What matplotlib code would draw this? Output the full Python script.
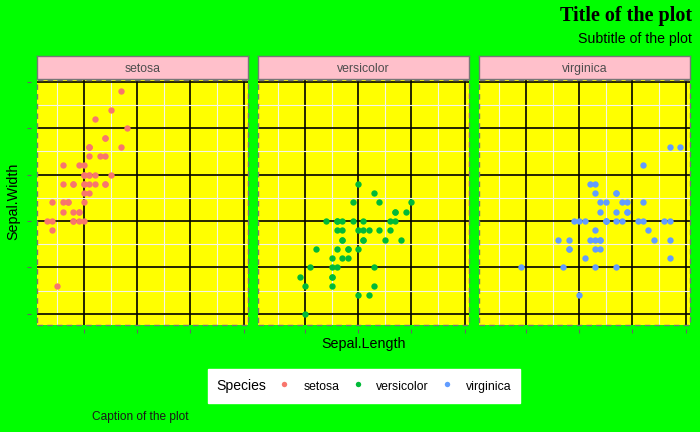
import matplotlib
matplotlib.use("Agg")
import matplotlib.pyplot as plt
from matplotlib.lines import Line2D
from matplotlib.patches import Rectangle

# iris sepal measurements, by species
species = ["setosa", "versicolor", "virginica"]
colors = ["#F8766D", "#00BA38", "#619CFF"]

setosa_len = [5.1, 4.9, 4.7, 4.6, 5.0, 5.4, 4.6, 5.0, 4.4, 4.9, 5.4, 4.8, 4.8, 4.3, 5.8, 5.7, 5.4,
              5.1, 5.7, 5.1, 5.4, 5.1, 4.6, 5.1, 4.8, 5.0, 5.0, 5.2, 5.2, 4.7, 4.8, 5.4, 5.2, 5.5,
              4.9, 5.0, 5.5, 4.9, 4.4, 5.1, 5.0, 4.5, 4.4, 5.0, 5.1, 4.8, 5.1, 4.6, 5.3, 5.0]
setosa_wid = [3.5, 3.0, 3.2, 3.1, 3.6, 3.9, 3.4, 3.4, 2.9, 3.1, 3.7, 3.4, 3.0, 3.0, 4.0, 4.4, 3.9,
              3.5, 3.8, 3.8, 3.4, 3.7, 3.6, 3.3, 3.4, 3.0, 3.4, 3.5, 3.4, 3.2, 3.1, 3.4, 4.1, 4.2,
              3.1, 3.2, 3.5, 3.6, 3.0, 3.4, 3.5, 2.3, 3.2, 3.5, 3.8, 3.0, 3.8, 3.2, 3.7, 3.3]
versicolor_len = [7.0, 6.4, 6.9, 5.5, 6.5, 5.7, 6.3, 4.9, 6.6, 5.2, 5.0, 5.9, 6.0, 6.1, 5.6, 6.7, 5.6,
                  5.8, 6.2, 5.6, 5.9, 6.1, 6.3, 6.1, 6.4, 6.6, 6.8, 6.7, 6.0, 5.7, 5.5, 5.5, 5.8, 6.0,
                  5.4, 6.0, 6.7, 6.3, 5.6, 5.5, 5.5, 6.1, 5.8, 5.0, 5.6, 5.7, 5.7, 6.2, 5.1, 5.7]
versicolor_wid = [3.2, 3.2, 3.1, 2.3, 2.8, 2.8, 3.3, 2.4, 2.9, 2.7, 2.0, 3.0, 2.2, 2.9, 2.9, 3.1, 3.0,
                  2.7, 2.2, 2.5, 3.2, 2.8, 2.5, 2.8, 2.9, 3.0, 2.8, 3.0, 2.9, 2.6, 2.4, 2.4, 2.7, 2.7,
                  3.0, 3.4, 3.1, 2.3, 3.0, 2.5, 2.6, 3.0, 2.6, 2.3, 2.7, 3.0, 2.9, 2.9, 2.5, 2.8]
virginica_len = [6.3, 5.8, 7.1, 6.3, 6.5, 7.6, 4.9, 7.3, 6.7, 7.2, 6.5, 6.4, 6.8, 5.7, 5.8, 6.4, 6.5,
                 7.7, 7.7, 6.0, 6.9, 5.6, 7.7, 6.3, 6.7, 7.2, 6.2, 6.1, 6.4, 7.2, 7.4, 7.9, 6.4, 6.3,
                 6.1, 7.7, 6.3, 6.4, 6.0, 6.9, 6.7, 6.9, 5.8, 6.8, 6.7, 6.7, 6.3, 6.5, 6.2, 5.9]
virginica_wid = [3.3, 2.7, 3.0, 2.9, 3.0, 3.0, 2.5, 2.9, 2.5, 3.6, 3.2, 2.7, 3.0, 2.5, 2.8, 3.2, 3.0,
                 3.8, 2.6, 2.2, 3.2, 2.8, 2.8, 2.7, 3.3, 3.2, 2.8, 3.0, 2.8, 3.0, 2.8, 3.8, 2.8, 2.8,
                 2.6, 3.0, 3.4, 3.1, 3.0, 3.1, 3.1, 3.1, 2.7, 3.2, 3.3, 3.0, 2.5, 3.0, 3.4, 3.0]

data_len = [setosa_len, versicolor_len, virginica_len]
data_wid = [setosa_wid, versicolor_wid, virginica_wid]

x_major = [5, 6, 7, 8]
x_minor = [4.5, 5.5, 6.5, 7.5]
y_major = [2.0, 2.5, 3.0, 3.5, 4.0, 4.5]
y_minor = [2.25, 2.75, 3.25, 3.75, 4.25]

W, H = 700, 432
fig = plt.figure(figsize=(7, 4.32), dpi=100, facecolor="#00FF00")
plt.rcParams['font.family'] = ['Liberation Sans', 'DejaVu Sans']

xmin = min(min(v) for v in data_len)
xmax = max(max(v) for v in data_len)
ymin = min(min(v) for v in data_wid)
ymax = max(max(v) for v in data_wid)
xpad = (xmax - xmin) * 0.05
ypad = (ymax - ymin) * 0.05

panel_left = [37, 258, 479]
panel_w = 211
panel_top, panel_bot = 80, 325

for i, sp in enumerate(species):
    x0 = panel_left[i]
    ax = fig.add_axes([x0 / W, (H - panel_bot) / H, panel_w / W, (panel_bot - panel_top) / H])
    ax.set_facecolor("#FFFF00")
    ax.set_xlim(xmin - xpad, xmax + xpad)
    ax.set_ylim(ymin - ypad, ymax + ypad)
    ax.set_xticks(x_major)
    ax.set_xticks(x_minor, minor=True)
    ax.set_yticks(y_major)
    ax.set_yticks(y_minor, minor=True)
    ax.grid(True, which="minor", color="#F4F4E8", lw=0.8, zorder=0)
    ax.grid(True, which="major", color="black", lw=1.2, zorder=0)
    ax.set_axisbelow(True)
    ax.scatter(data_len[i], data_wid[i], s=21, color=colors[i], linewidths=0, zorder=3)
    ax.set_xticklabels([])
    ax.set_yticklabels([])
    ax.tick_params(which="minor", length=0)
    ax.tick_params(which="major", length=3, width=0.8, color="#666666")
    # ticks sit a few pixels away from the panel; the border is a dashed box
    for side in ["top", "right", "bottom", "left"]:
        ax.spines[side].set_visible(False)
    ax.spines["bottom"].set_position(("outward", 3.0))
    ax.spines["left"].set_position(("outward", 4.3))
    ax.add_patch(Rectangle((0, 0), 1, 1, transform=ax.transAxes, fill=False,
                           ls=(0, (4, 3)), ec="#777777", lw=1.0, clip_on=False, zorder=4))
    ax.xaxis.set_ticks_position("bottom")
    if i == 0:
        ax.yaxis.set_ticks_position("left")
    else:
        ax.tick_params(axis="y", which="both", left=False)

    # strip
    sax = fig.add_axes([x0 / W, (H - 79) / H, panel_w / W, 23 / H])
    sax.set_facecolor("#FFC0CB")
    sax.set_xticks([])
    sax.set_yticks([])
    for side in sax.spines.values():
        side.set_color("#777777")
        side.set_linewidth(1.0)
    sax.text(0.5, 0.45, sp, ha="center", va="center", fontsize=8.8, color="#4D4D4D",
             transform=sax.transAxes)

fig.text(692 / W, 1 - 16 / H, "Title of the plot", ha="right", va="center",
         fontsize=14.5, fontweight="bold", family="Liberation Serif")
fig.text(692 / W, 1 - 39 / H, "Subtitle of the plot", ha="right", va="center", fontsize=10.2)
fig.text(364 / W, 1 - 344 / H, "Sepal.Length", ha="center", va="center", fontsize=10.3)
fig.text(13.5 / W, 1 - 201 / H, "Sepal.Width", ha="center", va="center", fontsize=10.3,
         rotation=90)
fig.text(92 / W, 1 - 417 / H, "Caption of the plot", ha="left", va="center", fontsize=8.6,
         color="#1A1A1A")

handles = [Line2D([], [], ls="", marker="o", ms=3.9, mec="none", color=c) for c in colors]
leg = fig.legend(handles, species, ncol=3, title="Species", loc="center",
                 bbox_to_anchor=(364 / W, 1 - 386 / H), frameon=True, fancybox=False,
                 edgecolor="white", facecolor="white", framealpha=1, fontsize=8.8,
                 title_fontsize=10.1, handlelength=1.0, handletextpad=1.05, columnspacing=1.0,
                 handleheight=1.8, borderpad=0.65)
# put the legend title to the left of the keys
box = leg.get_children()[0]
title_box = box.get_children()[0]
keys_box = box.get_children()[1]
box._children = [keys_box]
keys_box._children = [title_box] + keys_box.get_children()
keys_box.align = "center"

fig.savefig("out.png", dpi=100, facecolor=fig.get_facecolor())
